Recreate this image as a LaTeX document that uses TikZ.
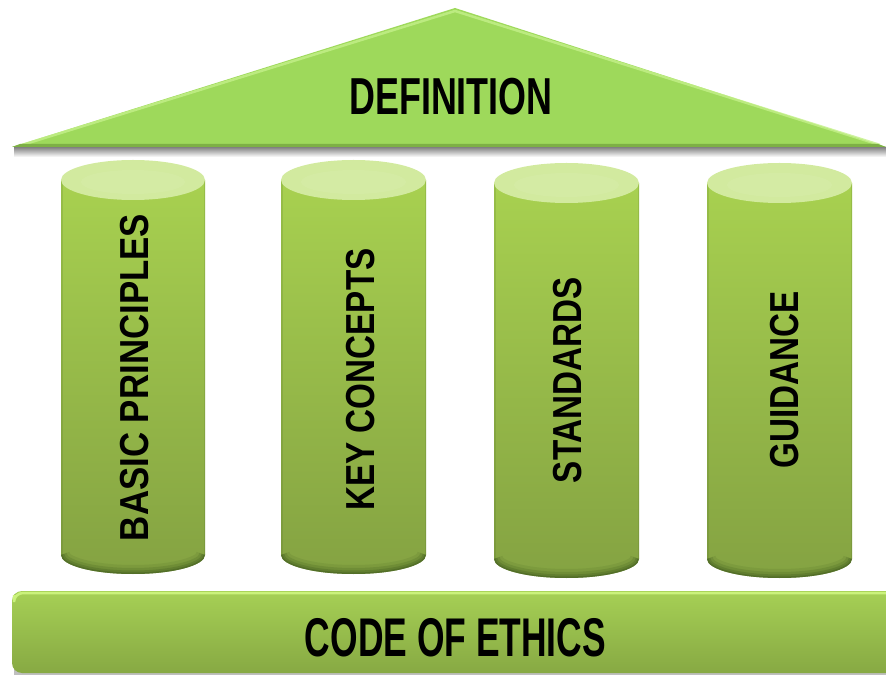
\documentclass[tikz,border=0pt]{standalone}
\usepackage{fontspec}
\setmainfont{Liberation Sans}
\newfontfamily\defnfont{Liberation Sans}[FakeStretch=0.69]
\newfontfamily\basefont{Liberation Sans}[FakeStretch=0.65]
\newfontfamily\pilfont{Liberation Sans}[FakeStretch=0.82]
\newfontfamily\pilwidefont{Liberation Sans}[FakeStretch=0.86]
\definecolor{roofgreen}{HTML}{9ED95B}
\definecolor{roofedge}{HTML}{7DB045}
\definecolor{roofhi}{HTML}{C4F08A}
\definecolor{pilltop}{HTML}{A8D150}
\definecolor{pillbot}{HTML}{84A242}
\definecolor{pillcap}{HTML}{D2EA9F}
\definecolor{pilldark}{HTML}{3F5A1E}
\definecolor{basetop}{HTML}{A6D055}
\definecolor{basebot}{HTML}{87A943}
\definecolor{basehi}{HTML}{CBF27C}
\tikzset{
  pilltext/.style={rotate=90,anchor=base,font=\pilfont\bfseries\fontsize{40.5}{44}\selectfont,text=black,inner sep=0pt},
  bigtext/.style={anchor=base,text=black,inner sep=0pt},
}
% pillar: #1 left x, #2 right x, #3 top centre Y, #4 bottom centre Y
\newcommand\mypillar[4]{%
  \pgfmathsetmacro\rx{(#2-#1)/2}%
  \begin{scope}
    \path[clip] (#1,#3) -- (#1,#4) arc[start angle=180,end angle=360,x radius=\rx,y radius=19] -- (#2,#3) -- cycle;
    \shade[top color=pilltop,bottom color=pillbot] (#1-2,#3+2) rectangle (#2+2,#4-22);
    \draw[pilldark,opacity=0.15,line width=3] (#1,#3) -- (#1,#4);
    \draw[pilldark,opacity=0.15,line width=3] (#2,#3) -- (#2,#4);
    \foreach \w/\o in {18/0.12,12/0.2,7/0.28,3/0.4}{
      \draw[pilldark,opacity=\o,line width=\w] (#1,#4) arc[start angle=180,end angle=360,x radius=\rx,y radius=19];
    }
  \end{scope}
  \fill[pillcap] (#1/2+#2/2,#3) ellipse[x radius=\rx,y radius=20];
  \fill[white,opacity=0.06] (#1/2+#2/2,#3-2) ellipse[x radius=\rx-20,y radius=12];
}
\begin{document}
\begin{tikzpicture}[x=1pt,y=1pt]
\useasboundingbox (0,0) rectangle (886,675);
% roof shadow
\shade[top color=black!45,bottom color=white] (14,527) rectangle (886,518);
% roof
\fill[roofgreen] (12,528) -- (455,667) -- (886,528) -- cycle;
\draw[roofhi,line width=2.5,opacity=0.8] (22,530) -- (455,664) -- (880,530);
\fill[roofedge] (12,528) -- (886,528) -- (878,531) -- (20,531) -- cycle;
\node[bigtext,font=\defnfont\bfseries\fontsize{52}{56}\selectfont] (def) at (451,560) {DEFINITION};
% pillars
\mypillar{61}{205}{495}{120}
\mypillar{281}{426}{495}{120}
\mypillar{494}{639}{492}{116}
\mypillar{707}{852}{492}{116}
\node[pilltext,font=\pilwidefont\bfseries\fontsize{40.5}{44}\selectfont] (p1) at (148,297.5) {BASIC PRINCIPLES};
\node[pilltext] (p2) at (374,295.5) {KEY CONCEPTS};
\node[pilltext] (p3) at (581,295) {STANDARDS};
\node[pilltext] (p4) at (798,295) {GUIDANCE};
% base
\fill[black!25] (14,81) rectangle (900,0);
\shade[top color=basetop,bottom color=basebot,rounded corners=10] (12,84) rectangle (910,2);
\draw[basehi,line width=2.5,rounded corners=9] (14,80) -- (14,82) -- (905,82);
\node[bigtext,font=\basefont\bfseries\fontsize{54.5}{58}\selectfont] (code) at (455.5,19) {CODE OF ETHICS};
\end{tikzpicture}
\end{document}
